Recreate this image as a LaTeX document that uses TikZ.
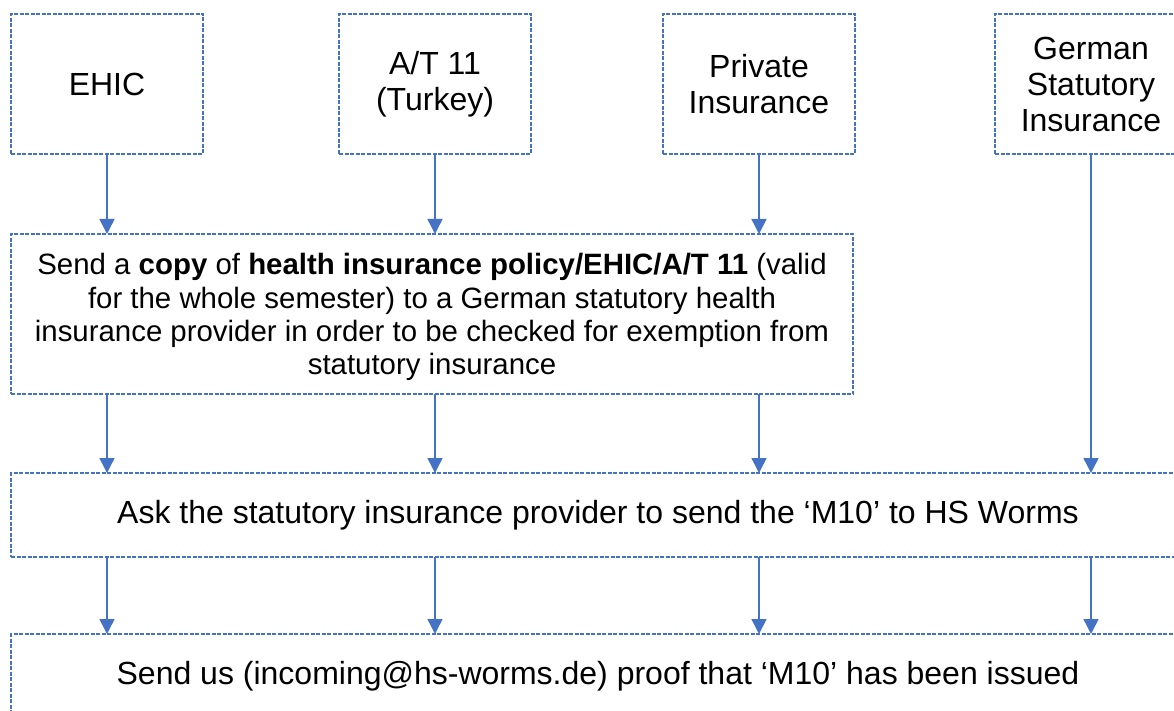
\documentclass[tikz,border=0pt]{standalone}
\usepackage{fontspec}
\setmainfont{Liberation Sans}
\usetikzlibrary{arrows.meta}
\definecolor{boxblue}{HTML}{4472C4}

\begin{document}
\begin{tikzpicture}[x=1pt,y=-1pt,
  stepbox/.style={draw=boxblue, line width=1.2pt, dash pattern=on 4pt off 1.5pt,
    align=center, inner sep=0pt, outer sep=0pt, font=\fontsize{32}{36}\selectfont},
  srcbox/.style={stepbox, minimum width=192pt, minimum height=140pt},
  flow/.style={draw=boxblue, line width=1.5pt, -{Triangle[width=15pt,length=15pt]}}]
  \useasboundingbox (0,0) rectangle (1174,711);
  % insurance types
  \node[srcbox] (ehic) at (107,84) {EHIC};
  \node[srcbox] (turkey) at (435,84) {A/T 11\\(Turkey)};
  \node[srcbox] (private) at (759,84) {Private\\Insurance};
  \node[srcbox] (statutory) at (1091,84) {German\\Statutory\\Insurance};
  % steps
  \node[stepbox, minimum width=842pt, minimum height=160pt, text depth=0pt,
    font=\fontsize{29.4}{33.3}\selectfont] (copy) at (432,314)
    {Send a \textbf{copy} of \textbf{health insurance policy/EHIC/A/T 11} (valid\\
     for the whole semester) to a German statutory health\\
     insurance provider in order to be checked for exemption from\\
     statutory insurance};
  \node[stepbox, minimum width=1174pt, minimum height=84pt] (ask) at (598,515)
    {Ask the statutory insurance provider to send the ‘M10’ to HS Worms};
  \node[stepbox, minimum width=1174pt, minimum height=84pt] (proof) at (598,676)
    {Send us (incoming@hs-worms.de) proof that ‘M10’ has been issued};
  % arrows
  \foreach \col in {ehic,turkey,private}
    \draw[flow] (\col) -- (\col |- copy.north);
  \draw[flow] (statutory) -- (statutory |- ask.north);
  \foreach \col in {ehic,turkey,private}
    \draw[flow] (copy.south -| \col) -- (ask.north -| \col);
  \foreach \col in {ehic,turkey,private,statutory}
    \draw[flow] (ask.south -| \col) -- (proof.north -| \col);
\end{tikzpicture}
\end{document}
